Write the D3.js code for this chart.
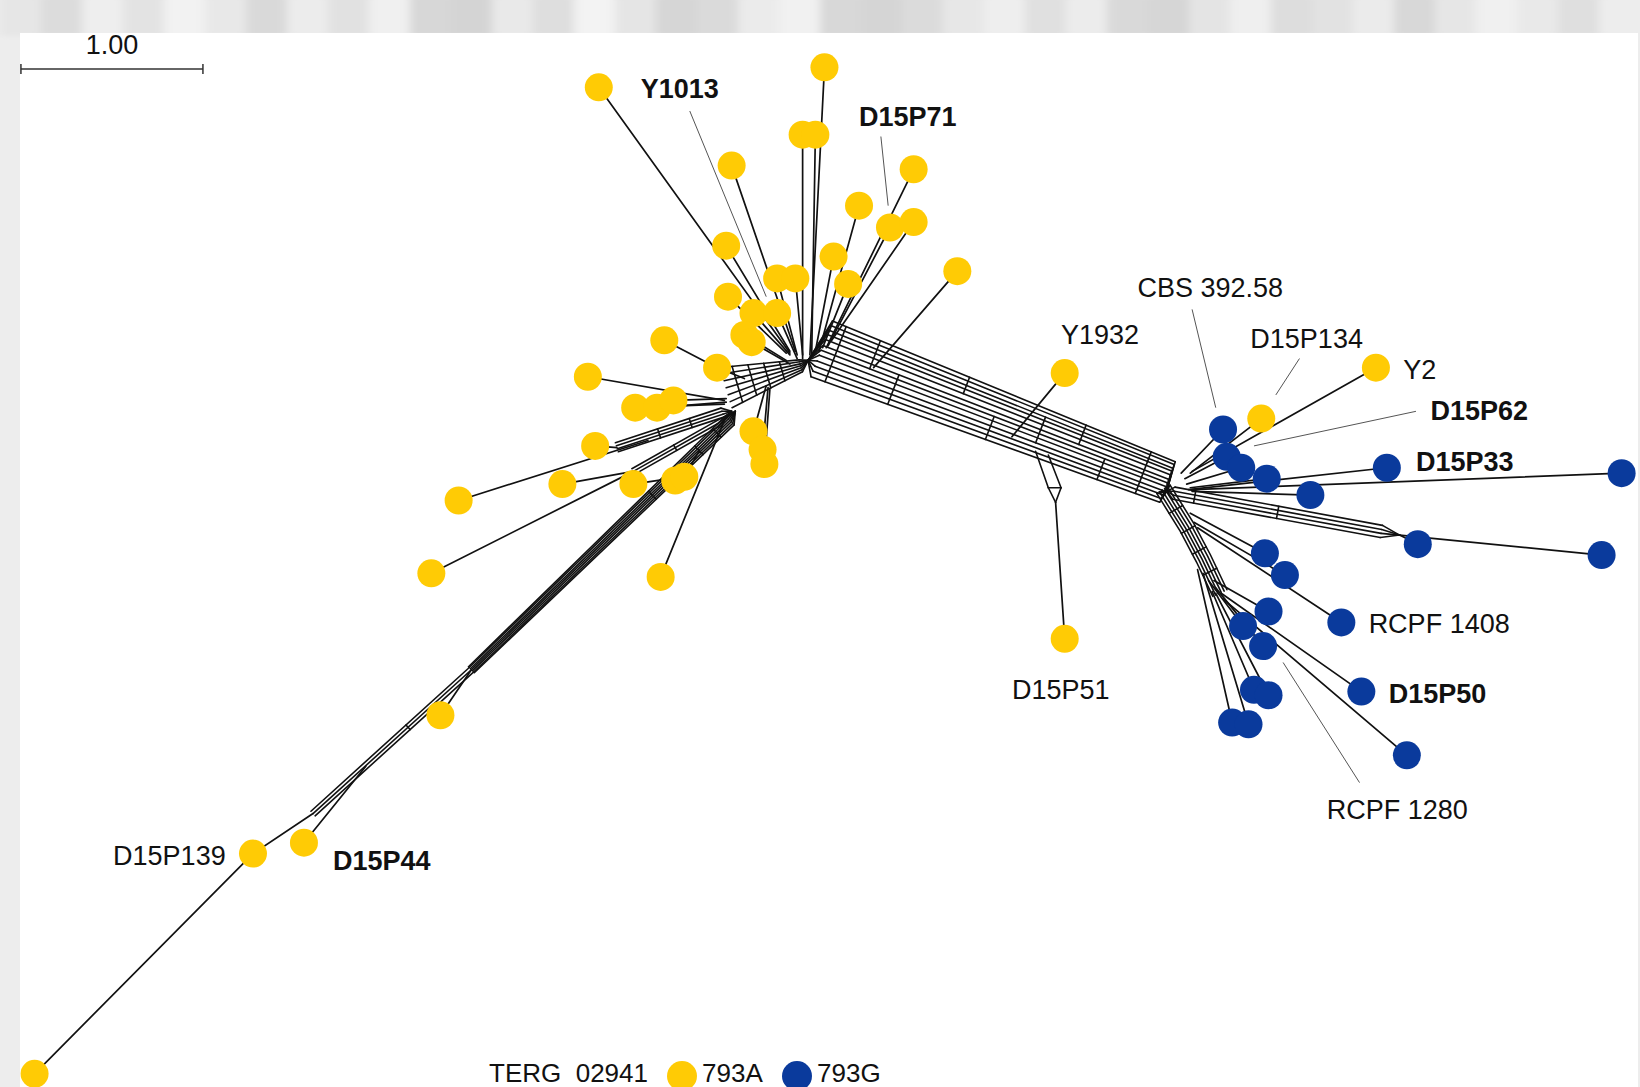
<!DOCTYPE html>
<html>
<head>
<meta charset="utf-8">
<script src="https://cdn.jsdelivr.net/npm/d3@7"></script>
<style>
  html, body { margin: 0; padding: 0; background: #fff; }
  svg { display: block; }
  text { font-family: "Liberation Sans", Arial, Helvetica, sans-serif; fill: #111; }
</style>
</head>
<body>
<svg id="chart" width="1640" height="1087"></svg>
<script>
// ---- Network layout (distance units; scale bar = 1.00) ----

// Allele 793A tips: [x, y, attachX, attachY]
const tips793A = [
  [3.29, 0.48, 4.34, 1.94],
  [4.53, 0.37, 4.45, 1.95],
  [4.41, 0.74, 4.41, 1.97],
  [4.48, 0.74, 4.46, 1.95],
  [4.02, 0.91, 4.37, 1.93],
  [5.02, 0.93, 4.54, 1.91],
  [4.72, 1.13, 4.50, 1.93],
  [4.89, 1.25, 4.55, 1.90],
  [5.02, 1.22, 4.57, 1.87],
  [3.99, 1.35, 4.34, 1.93],
  [4.58, 1.41, 4.48, 1.93],
  [5.26, 1.49, 4.80, 2.02],
  [4.27, 1.53, 4.38, 1.95],
  [4.37, 1.53, 4.41, 1.95],
  [4.66, 1.56, 4.52, 1.91],
  [4.00, 1.63, 4.32, 1.94],
  [4.14, 1.72, 4.34, 1.95],
  [4.27, 1.72, 4.38, 1.97],
  [4.09, 1.84, 4.32, 1.98],
  [4.13, 1.88, 4.34, 2.00],
  [3.65, 1.87, 3.94, 2.02],
  [3.94, 2.02, 4.09, 2.08],
  [3.23, 2.07, 3.98, 2.20],
  [3.49, 2.24, 3.98, 2.22],
  [3.61, 2.24, 3.99, 2.21],
  [3.70, 2.20, 3.99, 2.19],
  [3.27, 2.45, 3.39, 2.46],
  [4.14, 2.37, 4.21, 2.12],
  [4.19, 2.47, 4.22, 2.13],
  [4.20, 2.55, 4.23, 2.14],
  [3.09, 2.66, 3.48, 2.59],
  [3.48, 2.66, 3.68, 2.63],
  [3.71, 2.64, 3.76, 2.55],
  [3.76, 2.62, 3.84, 2.48],
  [2.52, 2.75, 3.56, 2.42],
  [2.37, 3.15, 3.48, 2.59],
  [3.63, 3.17, 3.98, 2.31],
  [2.42, 3.93, 2.59, 3.68],
  [1.39, 4.69, 1.72, 4.47],   // D15P139
  [1.67, 4.63, 2.01, 4.21],   // D15P44
  [0.19, 5.90, 1.39, 4.69],
  [5.85, 2.05, 5.56, 2.40],   // Y1932
  [5.85, 3.51, 5.80, 2.76],   // D15P51
  [7.56, 2.02, 6.55, 2.59],   // Y2
  [6.93, 2.30, 6.54, 2.60]    // D15P134
];

// Allele 793G tips: [x, y, attachX, attachY]
const tips793G = [
  [6.72, 2.36, 6.49, 2.60],
  [6.74, 2.51, 6.51, 2.63],
  [6.82, 2.57, 6.52, 2.66],
  [6.96, 2.63, 6.54, 2.68],
  [7.20, 2.72, 6.55, 2.70],
  [7.62, 2.57, 6.53, 2.69],   // D15P33
  [8.91, 2.60, 6.55, 2.69],
  [7.79, 2.99, 7.69, 2.94],
  [8.80, 3.05, 7.69, 2.94],
  [6.95, 3.04, 6.54, 2.82],
  [7.06, 3.16, 6.56, 2.87],
  [7.37, 3.42, 6.58, 2.90],   // RCPF 1408
  [6.97, 3.36, 6.67, 3.19],
  [6.83, 3.44, 6.64, 3.19],
  [6.94, 3.55, 6.68, 3.23],
  [7.48, 3.80, 6.71, 3.26],   // D15P50
  [7.73, 4.15, 6.72, 3.29],
  [6.89, 3.79, 6.66, 3.25],
  [6.97, 3.82, 6.68, 3.26],
  [6.77, 3.97, 6.58, 3.13],
  [6.86, 3.98, 6.61, 3.15]
];

// Split bands: centre path, split offsets (start / end), hubs, cross rungs [t, i, j]
const splitBands = [
  { path: [[4.51, 1.93], [6.41, 2.66]],
    offsets: [-0.178, -0.152, -0.124, -0.099, -0.069, -0.034, -0.006, 0.023, 0.057, 0.088, 0.118, 0.150],
    offsetsEnd: [-0.132, -0.115, -0.094, -0.077, -0.055, -0.029, -0.008, 0.014, 0.040, 0.062, 0.084, 0.106],
    startHub: [4.44, 1.98], endHub: [6.41, 2.70],
    rungs: [[0.04, 0, 11], [0.14, 0, 6], [0.22, 5, 11], [0.40, 0, 4], [0.50, 6, 11],
            [0.63, 2, 8], [0.74, 0, 5], [0.82, 6, 11], [0.93, 0, 11]] },
  { path: [[4.40, 2.01], [3.99, 2.13]],
    offsets: [-0.034, -0.023, -0.011, 0, 0.011, 0.023, 0.034],
    offsetsEnd: [-0.115, -0.080, -0.040, 0, 0.040, 0.080, 0.115],
    startHub: [4.44, 1.98],
    rungs: [[0.25, 0, 6], [0.45, 0, 6], [0.65, 0, 6], [0.85, 0, 6]] },
  { path: [[3.97, 2.27], [3.39, 2.46]],
    offsets: [-0.023, -0.006, 0.011, 0.029],
    startHub: [4.02, 2.26],
    rungs: [[0.3, 0, 3], [0.6, 0, 3]] },
  { path: [[3.94, 2.33], [3.48, 2.59]],
    offsets: [-0.017, 0, 0.017],
    startHub: [4.02, 2.27],
    rungs: [[0.5, 0, 2]] },
  { path: [[4.01, 2.31], [2.59, 3.68]],
    offsets: [-0.034, -0.023, -0.011, 0, 0.011, 0.023, 0.034],
    offsetsEnd: [-0.023, -0.017, -0.008, 0, 0.008, 0.017, 0.023],
    startHub: [4.04, 2.26],
    rungs: [[0.05, 0, 6], [0.12, 0, 6], [0.30, 0, 6]] },
  { path: [[2.59, 3.68], [1.72, 4.47]],
    offsets: [-0.017, 0, 0.017],
    rungs: [[0.4, 0, 2]] },
  { path: [[6.39, 2.69], [6.52, 2.90], [6.61, 3.07], [6.70, 3.26]],
    offsets: [-0.046, -0.029, -0.011, 0.006, 0.023, 0.040],
    startHub: [6.41, 2.70],
    rungs: [[0.2, 0, 5], [0.4, 0, 5], [0.6, 0, 5], [0.8, 0, 5]] },
  { path: [[6.45, 2.71], [7.59, 2.92]],
    offsets: [-0.034, -0.011, 0.011, 0.034],
    startHub: [6.41, 2.70], endHub: [7.69, 2.94],
    rungs: [[0.1, 0, 3], [0.5, 0, 3]] }
];

// Short internal edges below the main band
const extraEdges = [
  [5.69, 2.48, 5.76, 2.68],
  [5.76, 2.50, 5.83, 2.68],
  [5.76, 2.68, 5.80, 2.76],
  [5.83, 2.68, 5.80, 2.76],
  [5.76, 2.68, 5.83, 2.68]
];

// Strain labels
const labelText = ["Y1013", "D15P71", "CBS 392.58", "Y1932", "D15P134", "Y2", "D15P62", "D15P33",
                   "RCPF 1408", "D15P50", "RCPF 1280", "D15P51", "D15P139", "D15P44"];
const labelX = [3.52, 4.72, 6.25, 5.83, 6.87, 7.71, 7.86, 7.78, 7.52, 7.63, 7.29, 5.56, 1.24, 1.83];
const labelY = [0.54, 0.69, 1.63, 1.89, 1.91, 2.08, 2.31, 2.59, 3.48, 3.86, 4.50, 3.84, 4.75, 4.78];
const labelBold = [true, true, false, false, false, false, true, true, false, true, false, false, false, true];
const labelEnd = [false, false, false, false, false, false, false, false, false, false, false, false, true, false];

// Leader lines from labels to nodes
const leaders = [
  [3.79, 0.61, 4.21, 1.63],
  [4.84, 0.75, 4.88, 1.13],
  [6.55, 1.70, 6.68, 2.24],
  [7.14, 1.97, 7.01, 2.17],
  [7.78, 2.26, 6.89, 2.45],
  [7.47, 4.30, 7.05, 3.64]
];

const scaleBar = { x: 0.115, y: 0.379, length: 1.00, label: "1.00" };

const legendTitle = "TERG  02941";
const alleles = ["793A", "793G"];
const alleleColors = ["#FFCB05", "#0A3A9C"];

// grey tones of the scanned page margin
const marginShades = ["#e6e6e6", "#dcdcdc", "#eeeeee", "#e3e3e3", "#f2f2f2", "#e8e8e8", "#d9d9d9", "#ececec",
                      "#e1e1e1", "#f0f0f0", "#d7d7d7", "#d4d4d4", "#e9e9e9", "#dedede", "#f3f3f3", "#e5e5e5",
                      "#d6d6d6", "#dadada", "#ebebeb", "#f1f1f1", "#d8d8d8", "#d5d5d5", "#dbdbdb", "#e7e7e7",
                      "#eeeeee", "#e0e0e0", "#ececec", "#d9d9d9", "#d6d6d6", "#e4e4e4", "#efefef", "#dddddd",
                      "#e2e2e2", "#ebebeb", "#d8d8d8", "#e6e6e6", "#f0f0f0", "#e9e9e9", "#dfdfdf", "#ededed"];

// ---- Drawing ----
const W = 1640, H = 1087, PX_PER_UNIT = 182;
const x = d3.scaleLinear().domain([0, W / PX_PER_UNIT]).range([0, W]);
const y = d3.scaleLinear().domain([0, H / PX_PER_UNIT]).range([0, H]);
const color = d3.scaleOrdinal().domain(alleles).range(alleleColors);

const svg = d3.select("#chart");
const defs = svg.append("defs");
defs.append("filter").attr("id", "soft").attr("x", "-5%").attr("y", "-50%").attr("width", "110%").attr("height", "200%")
  .append("feGaussianBlur").attr("stdDeviation", "5 2");

// page backdrop: grey margins around a white panel
const backdrop = svg.append("g");
backdrop.append("rect").attr("width", W).attr("height", H).attr("fill", "#ededed");
const streakBand = d3.scaleBand().domain(d3.range(marginShades.length)).range([0, W]);
backdrop.append("g").attr("filter", "url(#soft)")
  .selectAll("rect").data(marginShades).join("rect")
  .attr("x", (d, i) => streakBand(i)).attr("y", -4)
  .attr("width", streakBand.bandwidth() + 2).attr("height", 40)
  .attr("fill", d => d);
backdrop.append("rect").attr("x", 20).attr("y", 33).attr("width", 1618).attr("height", H - 33).attr("fill", "#fff");

const line = d3.line();
const net = svg.append("g").attr("fill", "none").attr("stroke", "#111").attr("stroke-width", 1.6)
  .attr("stroke-linecap", "round");

function dist(a, b) { return Math.hypot(b[0] - a[0], b[1] - a[1]); }

function bandLines(band) {
  const pts = band.path.map(p => [x(p[0]), y(p[1])]);
  const cum = [0];
  for (let i = 1; i < pts.length; i++) cum.push(cum[i - 1] + dist(pts[i - 1], pts[i]));
  const total = cum[cum.length - 1];
  const normals = pts.map((p, i) => {
    let nx = 0, ny = 0;
    if (i > 0) { const dx = p[0] - pts[i - 1][0], dy = p[1] - pts[i - 1][1], l = Math.hypot(dx, dy); nx += -dy / l; ny += dx / l; }
    if (i < pts.length - 1) { const dx = pts[i + 1][0] - p[0], dy = pts[i + 1][1] - p[1], l = Math.hypot(dx, dy); nx += -dy / l; ny += dx / l; }
    const l = Math.hypot(nx, ny);
    return [nx / l, ny / l];
  });
  const o0 = band.offsets, o1 = band.offsetsEnd || band.offsets;
  return o0.map((a, k) => pts.map((p, i) => {
    const f = cum[i] / total;
    const o = (a + (o1[k] - a) * f) * PX_PER_UNIT;
    return [p[0] + normals[i][0] * o, p[1] + normals[i][1] * o];
  }));
}

function pointAt(pl, t) {
  const cum = [0];
  for (let i = 1; i < pl.length; i++) cum.push(cum[i - 1] + dist(pl[i - 1], pl[i]));
  const target = t * cum[cum.length - 1];
  let i = 0;
  while (i < pl.length - 2 && cum[i + 1] < target) i++;
  const f = (target - cum[i]) / (cum[i + 1] - cum[i]);
  return [pl[i][0] + (pl[i + 1][0] - pl[i][0]) * f, pl[i][1] + (pl[i + 1][1] - pl[i][1]) * f];
}

splitBands.forEach(band => {
  const lines = bandLines(band);
  const g = net.append("g");
  g.selectAll("path.split").data(lines).join("path").attr("class", "split").attr("d", line);
  if (band.startHub) {
    const h = [x(band.startHub[0]), y(band.startHub[1])];
    g.selectAll("path.fanA").data(lines).join("path").attr("class", "fanA").attr("d", l => line([h, l[0]]));
  }
  if (band.endHub) {
    const h = [x(band.endHub[0]), y(band.endHub[1])];
    g.selectAll("path.fanB").data(lines).join("path").attr("class", "fanB").attr("d", l => line([l[l.length - 1], h]));
  }
  g.selectAll("path.rung").data(band.rungs).join("path").attr("class", "rung")
    .attr("d", r => line([pointAt(lines[r[1]], r[0]), pointAt(lines[r[2]], r[0])]));
});

net.append("g").selectAll("line").data(extraEdges).join("line")
  .attr("x1", d => x(d[0])).attr("y1", d => y(d[1]))
  .attr("x2", d => x(d[2])).attr("y2", d => y(d[3]));

const tips = tips793A.map(d => ({ allele: "793A", p: d })).concat(tips793G.map(d => ({ allele: "793G", p: d })));

net.append("g").attr("stroke-width", 1.7).selectAll("line").data(tips).join("line")
  .attr("x1", d => x(d.p[2])).attr("y1", d => y(d.p[3]))
  .attr("x2", d => x(d.p[0])).attr("y2", d => y(d.p[1]));

// leader lines
svg.append("g").attr("stroke", "#555").attr("stroke-width", 1)
  .selectAll("line").data(leaders).join("line")
  .attr("x1", d => x(d[0])).attr("y1", d => y(d[1]))
  .attr("x2", d => x(d[2])).attr("y2", d => y(d[3]));

// nodes
svg.append("g").selectAll("circle").data(tips).join("circle")
  .attr("cx", d => x(d.p[0])).attr("cy", d => y(d.p[1])).attr("r", 14)
  .attr("fill", d => color(d.allele));

// labels
svg.append("g").selectAll("text").data(labelText).join("text")
  .attr("x", (d, i) => x(labelX[i])).attr("y", (d, i) => y(labelY[i]))
  .attr("font-size", 27)
  .attr("font-weight", (d, i) => labelBold[i] ? 700 : 400)
  .attr("text-anchor", (d, i) => labelEnd[i] ? "end" : "start")
  .text(d => d);

// scale bar
const sb = svg.append("g").attr("stroke", "#333").attr("stroke-width", 1.5);
const sx0 = x(scaleBar.x), sx1 = x(scaleBar.x + scaleBar.length), sy = y(scaleBar.y);
sb.append("line").attr("x1", sx0).attr("x2", sx1).attr("y1", sy).attr("y2", sy);
sb.append("line").attr("x1", sx0).attr("x2", sx0).attr("y1", sy - 5).attr("y2", sy + 5);
sb.append("line").attr("x1", sx1).attr("x2", sx1).attr("y1", sy - 5).attr("y2", sy + 5);
svg.append("text").attr("x", (sx0 + sx1) / 2).attr("y", sy - 15).attr("text-anchor", "middle")
  .attr("font-size", 27).text(scaleBar.label);

// legend
const lg = svg.append("g").attr("transform", "translate(489,1082)");
lg.append("text").attr("x", 0).attr("y", 0).attr("font-size", 26).style("white-space", "pre").text(legendTitle);
const item = lg.selectAll("g.item").data(alleles).join("g").attr("class", "item")
  .attr("transform", (d, i) => `translate(${193 + i * 115},0)`);
item.append("circle").attr("cx", 0).attr("cy", -6).attr("r", 15).attr("fill", d => color(d));
item.append("text").attr("x", 20).attr("y", 0).attr("font-size", 26).text(d => d);
</script>
</body>
</html>
